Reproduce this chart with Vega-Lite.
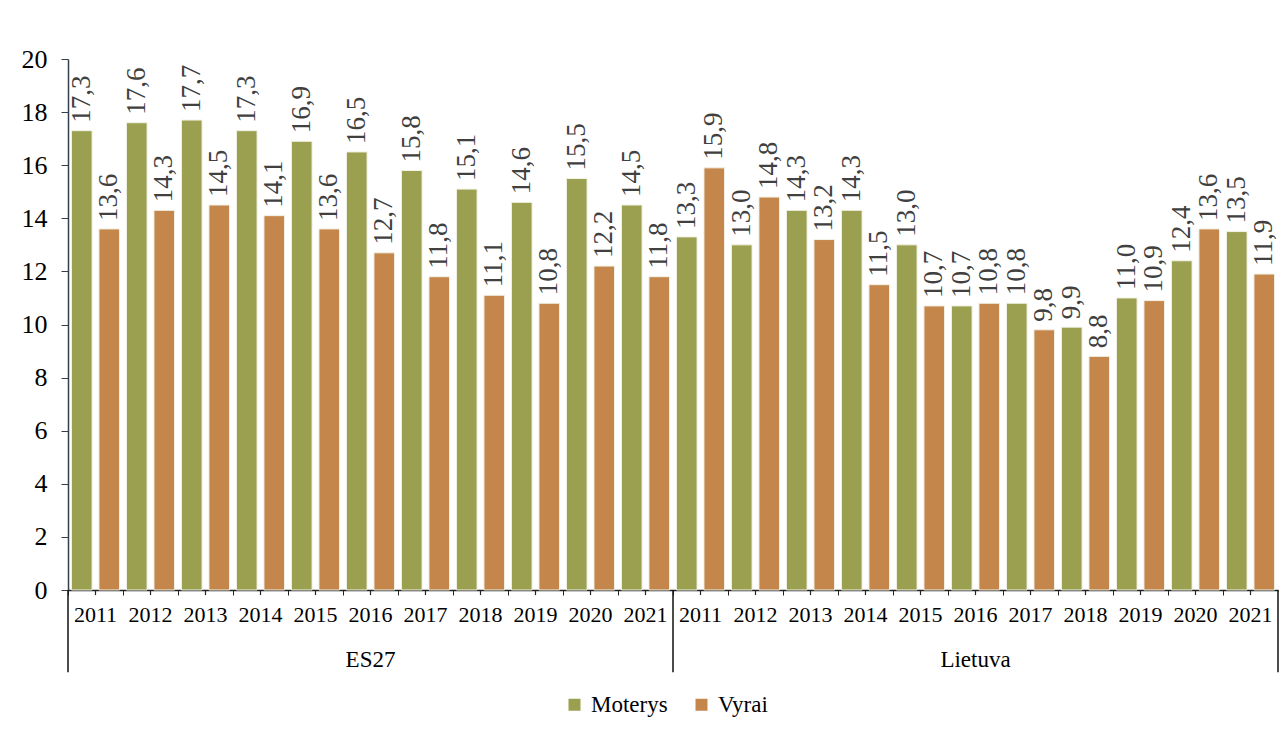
{
  "$schema": "https://vega.github.io/schema/vega-lite/v6.json",
  "width": 1210,
  "height": 531,
  "autosize": "none",
  "padding": {"left": 68, "top": 59, "right": 7, "bottom": 146},
  "background": "white",
  "config": {
    "view": {"stroke": null},
    "font": "Liberation Serif, Times New Roman, DejaVu Serif, serif",
    "locale": {"number": {"decimal": ",", "thousands": " ", "grouping": [3], "currency": ["", " €"]}}
  },
  "datasets": {
    "bars": [
      {"cy": "ES27 2011", "sex": "Moterys", "value": 17.3}, {"cy": "ES27 2011", "sex": "Vyrai", "value": 13.6},
      {"cy": "ES27 2012", "sex": "Moterys", "value": 17.6}, {"cy": "ES27 2012", "sex": "Vyrai", "value": 14.3},
      {"cy": "ES27 2013", "sex": "Moterys", "value": 17.7}, {"cy": "ES27 2013", "sex": "Vyrai", "value": 14.5},
      {"cy": "ES27 2014", "sex": "Moterys", "value": 17.3}, {"cy": "ES27 2014", "sex": "Vyrai", "value": 14.1},
      {"cy": "ES27 2015", "sex": "Moterys", "value": 16.9}, {"cy": "ES27 2015", "sex": "Vyrai", "value": 13.6},
      {"cy": "ES27 2016", "sex": "Moterys", "value": 16.5}, {"cy": "ES27 2016", "sex": "Vyrai", "value": 12.7},
      {"cy": "ES27 2017", "sex": "Moterys", "value": 15.8}, {"cy": "ES27 2017", "sex": "Vyrai", "value": 11.8},
      {"cy": "ES27 2018", "sex": "Moterys", "value": 15.1}, {"cy": "ES27 2018", "sex": "Vyrai", "value": 11.1},
      {"cy": "ES27 2019", "sex": "Moterys", "value": 14.6}, {"cy": "ES27 2019", "sex": "Vyrai", "value": 10.8},
      {"cy": "ES27 2020", "sex": "Moterys", "value": 15.5}, {"cy": "ES27 2020", "sex": "Vyrai", "value": 12.2},
      {"cy": "ES27 2021", "sex": "Moterys", "value": 14.5}, {"cy": "ES27 2021", "sex": "Vyrai", "value": 11.8},
      {"cy": "Lietuva 2011", "sex": "Moterys", "value": 13.3}, {"cy": "Lietuva 2011", "sex": "Vyrai", "value": 15.9},
      {"cy": "Lietuva 2012", "sex": "Moterys", "value": 13.0}, {"cy": "Lietuva 2012", "sex": "Vyrai", "value": 14.8},
      {"cy": "Lietuva 2013", "sex": "Moterys", "value": 14.3}, {"cy": "Lietuva 2013", "sex": "Vyrai", "value": 13.2},
      {"cy": "Lietuva 2014", "sex": "Moterys", "value": 14.3}, {"cy": "Lietuva 2014", "sex": "Vyrai", "value": 11.5},
      {"cy": "Lietuva 2015", "sex": "Moterys", "value": 13.0}, {"cy": "Lietuva 2015", "sex": "Vyrai", "value": 10.7},
      {"cy": "Lietuva 2016", "sex": "Moterys", "value": 10.7}, {"cy": "Lietuva 2016", "sex": "Vyrai", "value": 10.8},
      {"cy": "Lietuva 2017", "sex": "Moterys", "value": 10.8}, {"cy": "Lietuva 2017", "sex": "Vyrai", "value": 9.8},
      {"cy": "Lietuva 2018", "sex": "Moterys", "value": 9.9}, {"cy": "Lietuva 2018", "sex": "Vyrai", "value": 8.8},
      {"cy": "Lietuva 2019", "sex": "Moterys", "value": 11.0}, {"cy": "Lietuva 2019", "sex": "Vyrai", "value": 10.9},
      {"cy": "Lietuva 2020", "sex": "Moterys", "value": 12.4}, {"cy": "Lietuva 2020", "sex": "Vyrai", "value": 13.6},
      {"cy": "Lietuva 2021", "sex": "Moterys", "value": 13.5}, {"cy": "Lietuva 2021", "sex": "Vyrai", "value": 11.9}
    ],
    "countries": [
      {"cy": "ES27 2016", "country": "ES27", "start": "ES27 2011"},
      {"cy": "Lietuva 2016", "country": "Lietuva", "start": "Lietuva 2011"}
    ],
    "ends": [{"cy": "Lietuva 2021"}]
  },
  "data": {"name": "bars"},
  "layer": [
    {
      "mark": {"type": "bar", "stroke": "#f2f2e6", "strokeWidth": 1},
      "encoding": {
        "x": {
          "field": "cy", "type": "nominal", "sort": null,
          "scale": {"paddingInner": 0, "paddingOuter": 0},
          "axis": {
            "title": null,
            "labelExpr": "slice(datum.value, -4)",
            "labelAngle": 0,
            "bandPosition": 0,
            "labelFontSize": 22,
            "labelColor": "#000000",
            "labelPadding": 9,
            "tickSize": 5,
            "tickColor": "#222222",
            "domainColor": "#222222",
            "domainWidth": 1.5
          }
        },
        "xOffset": {
          "field": "sex", "type": "nominal",
          "scale": {"paddingInner": 0.25, "paddingOuter": 0.125}
        },
        "y": {
          "field": "value", "type": "quantitative",
          "scale": {"domain": [0, 20], "nice": false},
          "axis": {
            "title": null,
            "values": [0, 2, 4, 6, 8, 10, 12, 14, 16, 18, 20],
            "grid": false,
            "labelFontSize": 26,
            "labelColor": "#000000",
            "labelPadding": 14,
            "tickSize": 7,
            "tickColor": "#34404e",
            "domainColor": "#34404e",
            "domainWidth": 1.5,
            "format": "d"
          }
        },
        "color": {
          "field": "sex", "type": "nominal",
          "scale": {"domain": ["Moterys", "Vyrai"], "range": ["#9aa04f", "#c5864b"]},
          "legend": {
            "title": null,
            "orient": "none",
            "legendX": 495,
            "legendY": 634,
            "direction": "horizontal",
            "symbolType": "square",
            "symbolSize": 144,
            "symbolStrokeWidth": 0,
            "labelFontSize": 23,
            "labelColor": "#000000",
            "labelOffset": 5,
            "columnPadding": 22
          }
        }
      }
    },
    {
      "mark": {"type": "text", "angle": 270, "align": "left", "baseline": "middle", "dx": 8, "fontSize": 27, "color": "#404040"},
      "encoding": {
        "x": {"field": "cy", "type": "nominal", "sort": null},
        "xOffset": {"field": "sex", "type": "nominal"},
        "y": {"field": "value", "type": "quantitative"},
        "text": {"field": "value", "type": "quantitative", "format": ".1f"}
      }
    },
    {
      "transform": [{"filter": "datum.sex === 'Moterys'"}],
      "mark": {"type": "rule", "color": "#222222", "strokeWidth": 1.2},
      "encoding": {
        "x": {"field": "cy", "type": "nominal", "sort": null},
        "y": {"datum": 0},
        "y2": {"datum": -0.19}
      }
    },
    {
      "data": {"name": "countries"},
      "mark": {"type": "rule", "color": "#111111", "strokeWidth": 1.5},
      "encoding": {
        "x": {"field": "start", "type": "nominal", "sort": null, "bandPosition": 0},
        "y": {"datum": 0},
        "y2": {"datum": -3.1}
      }
    },
    {
      "data": {"name": "ends"},
      "mark": {"type": "rule", "color": "#111111", "strokeWidth": 1.5},
      "encoding": {
        "x": {"field": "cy", "type": "nominal", "sort": null, "bandPosition": 1},
        "y": {"datum": 0},
        "y2": {"datum": -3.1}
      }
    },
    {
      "data": {"name": "countries"},
      "mark": {"type": "text", "baseline": "middle", "align": "center", "dy": 70, "fontSize": 23, "color": "#000000"},
      "encoding": {
        "x": {"field": "cy", "type": "nominal", "sort": null},
        "y": {"datum": 0},
        "text": {"field": "country", "type": "nominal"}
      }
    }
  ]
}
